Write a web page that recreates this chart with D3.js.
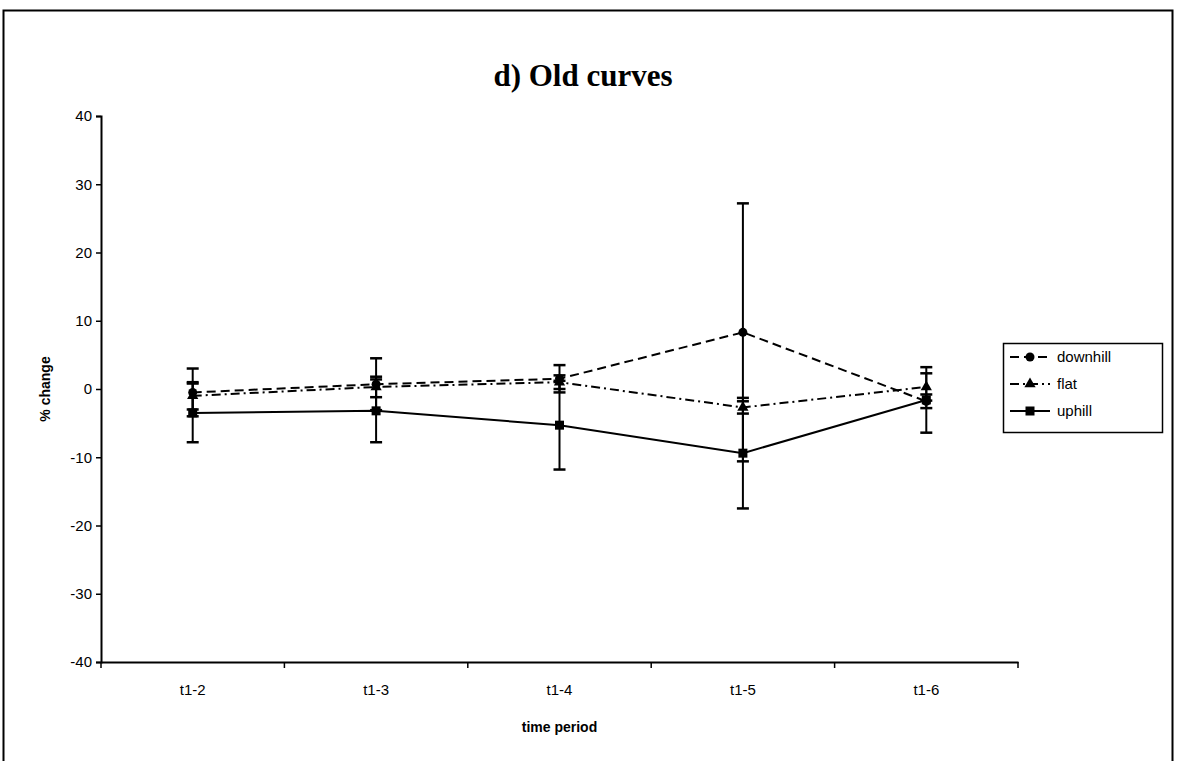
<!DOCTYPE html>
<html>
<head>
<meta charset="utf-8">
<script src="https://cdn.jsdelivr.net/npm/d3@7"></script>
<style>
  html, body { margin: 0; padding: 0; background: #fff; }
  svg { display: block; }
</style>
</head>
<body>
<svg id="chart" width="1177" height="761"></svg>
<script>
// Time periods on the x axis
const periods = ["t1-2", "t1-3", "t1-4", "t1-5", "t1-6"];
// Y axis tick values
const yTicks = [40, 30, 20, 10, 0, -10, -20, -30, -40];

// Mean % change per period
const downhill = [-0.5, 0.7, 1.5, 8.3, -1.8];
const flat = [-1.0, 0.3, 1.0, -2.7, 0.3];
const uphill = [-3.5, -3.2, -5.3, -9.4, -1.6];

// Error bar half-lengths per period
const downhillErr = [3.5, 3.8, 2.0, 18.9, 1.0];
const flatErr = [2.0, 1.5, 1.0, 0.9, 2.0];
const uphillErr = [4.3, 4.6, 6.5, 8.1, 4.8];

const seriesNames = ["downhill", "flat", "uphill"];

const series = [
  { name: seriesNames[0], values: downhill, err: downhillErr, dash: "9,5", marker: "circle" },
  { name: seriesNames[1], values: flat, err: flatErr, dash: "9,4,2,4", marker: "triangle" },
  { name: seriesNames[2], values: uphill, err: uphillErr, dash: null, marker: "square" }
];

const svg = d3.select("#chart");
const plotLeft = 101, plotRight = 1018, plotTop = 116, plotBottom = 662;
const sansFont = "Liberation Sans, Arial, sans-serif";

// Outer frame
svg.append("path")
  .attr("d", `M3.5,761 L3.5,10.5 L1172.5,10.5 L1172.5,761`)
  .attr("fill", "none").attr("stroke", "#000").attr("stroke-width", 2);

// Title
svg.append("text")
  .attr("x", 583).attr("y", 86)
  .attr("text-anchor", "middle")
  .attr("font-family", "Liberation Serif, 'Times New Roman', serif")
  .attr("font-weight", "bold")
  .attr("font-size", 31)
  .text("d) Old curves");

const x = d3.scaleBand().domain(periods).range([plotLeft, plotRight]);
const y = d3.scaleLinear().domain([-40, 40]).range([plotBottom, plotTop]);
const cx = p => x(p) + x.bandwidth() / 2;

// Y axis (plain hyphen for negative labels)
const yAxis = svg.append("g")
  .attr("transform", `translate(${plotLeft},0)`)
  .call(d3.axisLeft(y).tickValues(yTicks).tickSize(5).tickPadding(4).tickFormat(d => String(d)));
yAxis.select(".domain").attr("stroke-width", 2);
yAxis.selectAll(".tick line").attr("stroke-width", 1.5);
yAxis.selectAll("text")
  .attr("font-family", sansFont)
  .attr("font-size", 15).attr("fill", "#000");

// X axis: ticks fall between categories
const xAxis = svg.append("g")
  .attr("transform", `translate(0,${plotBottom})`)
  .call(d3.axisBottom(x).tickSize(0).tickPadding(22).tickSizeOuter(0));
xAxis.select(".domain").attr("stroke-width", 2);
xAxis.selectAll("text")
  .attr("font-family", sansFont)
  .attr("font-size", 15).attr("fill", "#000");
const bounds = periods.map(p => x(p)).concat([x(periods[periods.length - 1]) + x.bandwidth()]);
svg.append("g").selectAll("line").data(bounds).join("line")
  .attr("x1", d => d).attr("x2", d => d)
  .attr("y1", plotBottom).attr("y2", plotBottom + 6)
  .attr("stroke", "#000").attr("stroke-width", 1.5);

// Axis titles
svg.append("text")
  .attr("transform", `translate(50,${y(0)}) rotate(-90)`)
  .attr("text-anchor", "middle")
  .attr("font-family", sansFont)
  .attr("font-weight", "bold").attr("font-size", 14)
  .text("% change");
svg.append("text")
  .attr("x", (plotLeft + plotRight) / 2).attr("y", 732)
  .attr("text-anchor", "middle")
  .attr("font-family", sansFont)
  .attr("font-weight", "bold").attr("font-size", 14)
  .text("time period");

function drawMarker(g, type, px, py) {
  if (type === "circle") {
    g.append("circle").attr("cx", px).attr("cy", py).attr("r", 4.5).attr("fill", "#000");
  } else if (type === "triangle") {
    g.append("path").attr("d", d3.symbol(d3.symbolTriangle, 55)()).attr("transform", `translate(${px},${py})`).attr("fill", "#000");
  } else {
    g.append("rect").attr("x", px - 4.5).attr("y", py - 4.5).attr("width", 9).attr("height", 9).attr("fill", "#000");
  }
}

const plot = svg.append("g");
const line = d3.line().x((d, i) => cx(periods[i])).y(d => y(d));

series.forEach(s => {
  // Error bars
  const eb = plot.append("g");
  s.values.forEach((v, i) => {
    const px = cx(periods[i]);
    const y1 = y(v + s.err[i]), y2 = y(v - s.err[i]);
    eb.append("line").attr("x1", px).attr("x2", px).attr("y1", y1).attr("y2", y2)
      .attr("stroke", "#000").attr("stroke-width", 2);
    [y1, y2].forEach(yy => eb.append("line")
      .attr("x1", px - 6).attr("x2", px + 6).attr("y1", yy).attr("y2", yy)
      .attr("stroke", "#000").attr("stroke-width", 2.5));
  });
});

series.forEach(s => {
  plot.append("path").datum(s.values)
    .attr("d", line)
    .attr("fill", "none").attr("stroke", "#000").attr("stroke-width", 2)
    .attr("stroke-dasharray", s.dash);
  const mg = plot.append("g");
  s.values.forEach((v, i) => drawMarker(mg, s.marker, cx(periods[i]), y(v)));
});

// Legend
const lg = svg.append("g");
lg.append("rect").attr("x", 1003.5).attr("y", 343.5).attr("width", 159).attr("height", 89)
  .attr("fill", "#fff").attr("stroke", "#000").attr("stroke-width", 1.5);
series.forEach((s, i) => {
  const ly = 357 + i * 27;
  lg.append("line").attr("x1", 1010).attr("x2", 1050).attr("y1", ly).attr("y2", ly)
    .attr("stroke", "#000").attr("stroke-width", 2).attr("stroke-dasharray", s.dash);
  drawMarker(lg, s.marker, 1030, ly);
  lg.append("text").attr("x", 1057).attr("y", ly + 5)
    .attr("font-family", sansFont)
    .attr("font-size", 15).text(s.name);
});
</script>
</body>
</html>
